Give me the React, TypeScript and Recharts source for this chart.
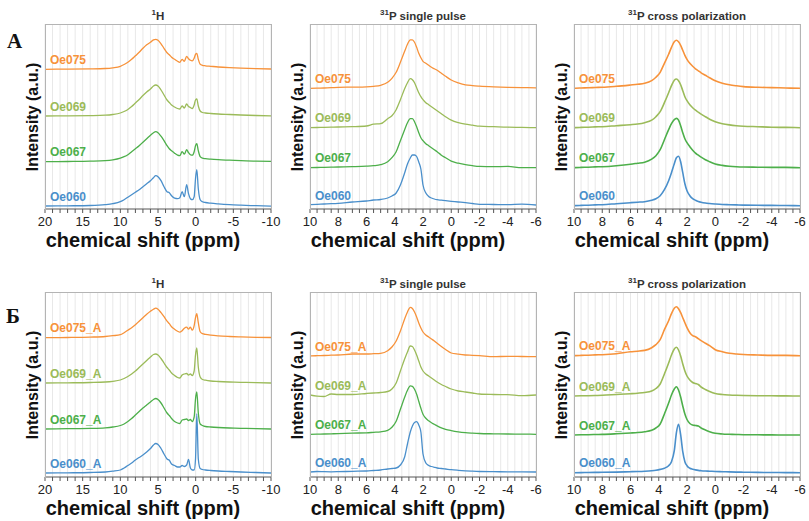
import { LineChart, Line, XAxis, YAxis, CartesianGrid } from 'recharts';

const FONT = '"Liberation Sans", Arial, Helvetica, sans-serif';

const C_075 = '#F7923A';
const C_069 = '#9BBB59';
const C_067 = '#4DAF4A';
const C_060 = '#4A8FCB';

// ---- 1H spectra (ppm grid shared by all 1H traces)
const h1Ppm = [20, 17, 14, 12, 11, 10, 9.5, 9, 8.5, 8, 7.5, 7, 6.5, 6, 5.6, 5.3, 5, 4.6, 4.2, 3.8, 3.5, 3.2, 2.8, 2.4, 2.1, 1.8, 1.5, 1.2, 0.95, 0.7, 0.45, 0.2, 0.02, -0.15, -0.35, -0.6, -0.9, -1.3, -2, -3, -4.5, -6, -8, -10];

const h1Oe075 = [0, 0.2, 0.4, 0.8, 1.5, 3, 4.8, 7, 10, 13.5, 17, 21, 24.5, 27, 29.5, 30, 29, 25.5, 21, 16.5, 14.5, 12, 10, 8, 7, 10, 8, 13, 10.5, 9, 8.5, 11, 15, 16, 10, 5, 4, 3.5, 3, 2.3, 1.6, 1.1, 0.6, 0.3];
const h1Oe069 = [0, 0.2, 0.4, 0.8, 1.5, 3, 4.5, 6.5, 9.5, 13, 16.5, 20.5, 24, 27, 30, 31, 30, 26, 21, 16, 13.5, 11, 9, 7.5, 7, 10, 8, 12, 9.5, 8.5, 7.5, 11, 16, 17, 10, 5, 3.5, 3, 2.5, 2, 1.5, 1, 0.5, 0.2];
const h1Oe067 = [0, 0.2, 0.5, 1, 1.8, 3.5, 5, 7, 10, 13, 16, 19.5, 23, 26.5, 29, 30, 29, 25.5, 21, 16, 13, 11, 8.5, 6.5, 6, 10, 7.5, 12, 9, 7, 6.5, 10, 16, 18, 11, 5, 3.5, 3, 2.5, 2, 1.5, 1, 0.6, 0.3];
const h1Oe060 = [0.7, 0.9, 1.2, 2, 3, 5, 7, 9.5, 12, 14.5, 17, 20, 23, 26, 29, 31, 30, 26, 20, 15, 14, 11, 8.5, 8, 9, 15, 10, 22, 13, 8, 7, 10, 28, 37, 18, 7, 5, 4.2, 3.5, 2.8, 2, 1.5, 1, 0.5];

const h1Oe075A = [0, 0.2, 0.6, 1.2, 2, 3, 5, 7.5, 10, 13, 16.5, 20, 23.5, 26.5, 28.5, 29.5, 28.5, 25, 21, 16.5, 14, 11, 8.5, 6.5, 5.5, 7, 9.5, 10.5, 8.5, 10.5, 7.5, 12, 20, 24, 15, 6, 4, 3.3, 2.5, 1.8, 1.2, 0.8, 0.4, 0.2];
const h1Oe069A = [0, 0.2, 0.5, 1, 1.7, 3, 4.5, 6.5, 9, 12, 15.5, 19, 22.5, 26, 28.5, 29, 28, 24.5, 20, 15.5, 13, 10, 7.5, 5.5, 5, 8, 9, 9.5, 8, 9, 7.5, 12, 28, 35, 16, 6, 3.5, 2.8, 2, 1.5, 1, 0.7, 0.3, 0];
const h1Oe067A = [0, 0.3, 0.6, 1.2, 2, 3.5, 5, 7.5, 10.5, 14, 17.5, 21, 24, 27, 29.5, 30.5, 29.5, 26, 21, 16, 13.5, 10.5, 7.5, 6, 5.5, 9, 9.5, 10, 8.5, 9.5, 7.5, 12, 30, 37, 16, 5, 3.5, 2.5, 2, 1.5, 1, 0.7, 0.3, 0];
const h1Oe060A = [0, 0.2, 0.5, 1, 1.8, 3, 5, 7.5, 10, 13, 15.5, 18, 21, 24.5, 28, 29.5, 28.5, 24.5, 19, 14, 12.7, 9, 7.5, 6, 6, 7.5, 6.5, 8, 13.5, 5, 3, 3, 14, 59, 14, 4.5, 3.5, 3, 2.5, 2, 1.5, 1, 0.5, 0];

// ---- 31P spectra (ppm grid shared by single pulse and cross polarization)
const pPpm = [10, 9.5, 9, 8.5, 8, 7, 6, 5.5, 5, 4.5, 4.2, 3.9, 3.6, 3.3, 3.1, 2.9, 2.75, 2.6, 2.45, 2.3, 2.15, 2, 1.8, 1.6, 1.4, 1.2, 1, 0.7, 0.4, 0, -0.5, -1, -1.5, -2, -3, -4, -5, -6];

const spOe075 = [0, 0.2, 0.3, 0.6, 1, 1.2, 1.5, 2, 3, 6, 10, 16, 26, 37, 44, 48.5, 48.5, 46, 41, 35, 30.5, 27, 25, 23, 21, 19.5, 18, 15, 12, 8.3, 5.5, 3.5, 2.7, 2.2, 1.5, 1, 0.7, 0.5];
const spOe069 = [0, 0.2, 0.3, 0.5, 0.7, 1, 1.7, 3.5, 4, 9, 12, 18, 28, 39, 45, 49, 48, 45, 40, 35, 31, 28, 25, 23, 21, 19, 17, 14, 11, 7.5, 5, 3.5, 2.5, 1.5, 1, 0.5, 0.3, 0];
const spOe067 = [0, 0.2, 0.3, 0.5, 0.7, 1, 1.5, 2, 3, 6, 10, 16, 27, 38, 45, 49, 49, 46, 41, 35, 30, 27, 24, 22, 20, 18, 16, 12.5, 10, 6.5, 4.5, 3, 2, 1.3, 1, 1.3, 0, 0];
const spOe060 = [0.3, 0.6, 1, 1.3, 1.7, 3, 4, 5, 5.5, 7, 9, 12, 20, 32, 41, 47, 50, 50, 48.5, 43, 36, 20, 12, 8.5, 7, 6, 5.3, 4.8, 4.3, 3.7, 3, 2.3, 1.5, 0.7, 0.5, 0.3, 0.8, 0];

const cpOe075 = [0, 0.3, 0.5, 0.8, 1, 2, 3.3, 4, 5, 7.7, 11, 16, 25, 34, 41, 46.5, 48, 46.5, 43, 38, 33, 29, 25, 22, 19.5, 17.5, 15.5, 13, 10.5, 7.5, 5, 3.5, 2.5, 1.7, 1, 0.7, 0.3, 0];
const cpOe069 = [0, 0.3, 0.5, 0.8, 1, 2, 3, 3.7, 5, 7.5, 11, 16, 25, 35, 42, 47.5, 48.7, 47, 43, 37, 31, 27, 23, 20, 17.5, 15.5, 13.5, 11, 8.5, 6, 4, 2.8, 2, 1.5, 1, 0.5, 0.3, 0];
const cpOe067 = [0, 0.3, 0.5, 0.8, 1, 2, 3.5, 4.5, 5.5, 8.5, 12, 18, 28, 38, 44, 48, 49.3, 47.5, 42, 35, 29, 25, 21, 17.5, 14.5, 12.5, 10.5, 8, 6, 3.7, 2.3, 1.5, 1, 0.7, 0.5, 0.3, 0.3, 0];
const cpOe060 = [0, 0.3, 0.5, 0.8, 1, 2, 3, 3.5, 4, 5.5, 7, 10, 16, 25, 33, 42, 48, 49.5, 44, 33, 22, 15, 10, 7, 5.5, 4.3, 3.5, 2.7, 2.2, 1.7, 1.2, 1, 0.8, 0.6, 0.4, 0.3, 0.2, 0];

const spOe075A = [0, 0.3, 0.5, 0.8, 1, 2, 2, 2.3, 2.7, 5.3, 9, 15, 25, 37, 44, 48.7, 47.5, 44, 39, 33, 28, 24, 21, 19, 17, 15, 12.7, 9.5, 6.5, 3, 1.8, 1, 0.7, 0.3, -0.7, -0.3, -0.5, -0.7];
const spOe069A = [0, -1.2, -1.5, 1, 0.5, 0.5, 1.5, 2, 2.5, 3.5, 6, 12, 24, 36, 43, 49, 48.5, 45, 40, 34, 28, 24, 21, 19, 17, 15, 13, 10.5, 8.5, 6, 4, 3, 2, 1, 0.5, 0.3, -0.7, 0];
const spOe067A = [0, 0.2, 0.3, 0.5, 0.7, 1.2, 1.5, 2, 2.5, 4, 7, 13, 25, 37, 44, 48.5, 48, 45, 40, 33, 26, 20, 16, 13.5, 11.5, 10, 8.5, 6.5, 5, 3.7, 2.5, 1.7, 1.2, 0.8, 0.5, 0.3, 0.2, 0];
const spOe060A = [0, 0.5, 0.3, 0.2, 0.3, 0.7, 1, 1.5, 2, 3, 3.5, 4, 7, 15, 28, 40, 46, 49.5, 50.3, 47, 40, 18, 9, 6.5, 5.5, 4.7, 4, 3.5, 3, 2.3, 1.7, 1.2, 0.8, 0.5, 0.3, 0.2, 0.2, 0];

const cpOe075A = [0, 0.3, 0.5, 0.8, 1, 2, 4, 4.5, 5.3, 8, 11, 16, 26, 35, 42, 47.5, 49, 47, 43, 38, 33, 28, 23, 20, 19, 17, 15, 12.5, 10, 6, 4, 2.5, 1.7, 1.2, 0.7, 0.3, 0.3, 0];
const cpOe069A = [0, 0.2, 0.3, 0.5, 0.7, 1.5, 2.3, 2.8, 3.5, 5, 7.5, 12, 22, 33, 41, 47, 48.7, 46, 40, 32, 25, 20, 16, 13.5, 12.5, 11.5, 9, 6.5, 4.5, 2.5, 1.5, 1, 0.7, 0.5, 0.3, 0.2, 0.1, 0];
const cpOe067A = [0, 0.2, 0.3, 0.5, 0.6, 1.2, 2, 2.5, 3.3, 4.7, 7, 11, 21, 32, 40, 46, 48.3, 45, 38, 29, 21, 15.5, 11.5, 10, 9.5, 9, 7, 5, 3.3, 1.7, 1, 0.7, 0.5, 0.3, 0.2, 0.1, 0, 0];
const cpOe060A = [0, 0.1, 0.2, 0.3, 0.4, 0.6, 1, 1.2, 1.5, 2, 2.5, 3.3, 4.5, 7, 11, 22, 40, 48.5, 38, 21, 11, 7, 4.5, 3.5, 2.8, 2.3, 2, 1.7, 1.5, 1.2, 1, 0.8, 0.6, 0.5, 0.3, 0.2, 0.1, 0];

type Trace = { name: string; color: string; offset: number; values: number[] };

const PLOT_W = 226;
const PLOT_H = 185;
const PAD_X = 22;
const PAD_TOP = 2;
const AXIS_H = 26;

interface PanelProps {
  left: number;
  top: number;
  title: React.ReactNode;
  ppm: number[];
  traces: Trace[];
  xMin: number;
  xMax: number;
  step: number;
  labelEvery: number;
  lineWidth?: number;
}

function SpectrumPanel({ left, top, title, ppm, traces, xMin, xMax, step, labelEvery, lineWidth = 1.3 }: PanelProps) {
  const rows = ppm.map((p, i) => {
    const row: Record<string, number> = { ppm: p };
    traces.forEach((t, k) => {
      row[`s${k}`] = t.offset + t.values[i];
    });
    return row;
  });

  const ticks: number[] = [];
  for (let v = xMax; v >= xMin - 1e-9; v -= step) ticks.push(Math.round(v * 100) / 100);

  const fmt = (v: number) => (Math.abs(v % labelEvery) < 1e-6 ? String(v) : '');

  return (
    <>
      <div
        style={{
          position: 'absolute',
          left,
          top: top - 15,
          width: PLOT_W,
          textAlign: 'center',
          fontFamily: FONT,
          fontSize: 11.5,
          fontWeight: 'bold',
          color: '#333',
          lineHeight: '14px',
        }}
      >
        {title}
      </div>

      <div style={{ position: 'absolute', left: left - PAD_X, top: top - PAD_TOP }}>
        <LineChart
          width={PLOT_W + PAD_X * 2}
          height={PLOT_H + PAD_TOP + AXIS_H}
          data={rows}
          margin={{ top: PAD_TOP, right: PAD_X, left: PAD_X, bottom: 0 }}
        >
          <CartesianGrid horizontal={false} stroke="#e8e8e8" />
          <XAxis
            dataKey="ppm"
            type="number"
            domain={[xMin, xMax]}
            reversed
            allowDataOverflow
            ticks={ticks}
            interval={0}
            height={AXIS_H}
            tickSize={4}
            tickMargin={4}
            tickFormatter={fmt}
            tick={{ fontSize: 13, fill: '#222', fontFamily: FONT }}
            axisLine={{ stroke: '#555' }}
            tickLine={{ stroke: '#555' }}
          />
          <YAxis hide type="number" domain={[0, PLOT_H]} allowDataOverflow />
          {traces.map((t, k) => (
            <Line
              key={t.name}
              dataKey={`s${k}`}
              type="monotone"
              stroke={t.color}
              strokeWidth={lineWidth}
              dot={false}
              isAnimationActive={false}
            />
          ))}
        </LineChart>
      </div>

      {/* frame: top, left, right */}
      <div
        style={{
          position: 'absolute',
          left,
          top,
          width: PLOT_W - 1,
          height: PLOT_H,
          borderTop: '1px solid #b4b4b4',
          borderLeft: '1px solid #b4b4b4',
          borderRight: '1px solid #b4b4b4',
          pointerEvents: 'none',
        }}
      />

      {traces.map((t) => (
        <div
          key={`lbl-${t.name}`}
          style={{
            position: 'absolute',
            left: left + 5,
            top: top + PLOT_H - t.offset - 9.5 - 8,
            fontFamily: FONT,
            fontSize: 12,
            fontWeight: 'bold',
            color: t.color,
            lineHeight: '16px',
            whiteSpace: 'nowrap',
          }}
        >
          {t.name}
        </div>
      ))}

      <div
        style={{
          position: 'absolute',
          left: left - 12,
          top: top + PLOT_H / 2,
          transform: 'translate(-50%, -50%) rotate(-90deg)',
          fontFamily: FONT,
          fontSize: 16,
          fontWeight: 'bold',
          color: '#111',
          whiteSpace: 'nowrap',
          lineHeight: '18px',
        }}
      >
        Intensity (a.u.)
      </div>

      <div
        style={{
          position: 'absolute',
          left: left - 35,
          top: top + PLOT_H + 19,
          width: PLOT_W + 40,
          textAlign: 'center',
          fontFamily: FONT,
          fontSize: 20,
          fontWeight: 'bold',
          color: '#111',
          lineHeight: '24px',
        }}
      >
        chemical shift (ppm)
      </div>
    </>
  );
}

const sup = (s: string) => <span style={{ fontSize: 8, verticalAlign: 'super', lineHeight: 0 }}>{s}</span>;

const TITLE_H = <>{sup('1')}H</>;
const TITLE_SP = <>{sup('31')}P single pulse</>;
const TITLE_CP = <>{sup('31')}P cross polarization</>;

export default function App() {
  const rowA = 24;
  const rowB = 292;
  const x1 = 45;
  const x2 = 310;
  const x3 = 574;

  return (
    <div
      style={{
        position: 'fixed',
        left: 0,
        top: 0,
        width: 809,
        height: 521,
        background: '#fff',
        overflow: 'hidden',
      }}
    >
      <div style={{ position: 'absolute', left: 7, top: 29, fontFamily: '"Liberation Serif", "Times New Roman", serif', fontSize: 21, fontWeight: 'bold', color: '#111' }}>А</div>
      <div style={{ position: 'absolute', left: 6, top: 304, fontFamily: '"Liberation Serif", "Times New Roman", serif', fontSize: 21, fontWeight: 'bold', color: '#111' }}>Б</div>

      <SpectrumPanel
        left={x1} top={rowA} title={TITLE_H} ppm={h1Ppm} xMin={-10} xMax={20} step={1} labelEvery={5}
        traces={[
          { name: 'Oe075', color: C_075, offset: 139.7, values: h1Oe075 },
          { name: 'Oe069', color: C_069, offset: 93, values: h1Oe069 },
          { name: 'Oe067', color: C_067, offset: 47.3, values: h1Oe067 },
          { name: 'Oe060', color: C_060, offset: 2.3, values: h1Oe060 },
        ]}
      />
      <SpectrumPanel
        left={x2} top={rowA} title={TITLE_SP} ppm={pPpm} xMin={-6} xMax={10} step={0.5} labelEvery={2}
        traces={[
          { name: 'Oe075', color: C_075, offset: 120.7, values: spOe075 },
          { name: 'Oe069', color: C_069, offset: 81.3, values: spOe069 },
          { name: 'Oe067', color: C_067, offset: 41.3, values: spOe067 },
          { name: 'Oe060', color: C_060, offset: 4, values: spOe060 },
        ]}
      />
      <SpectrumPanel
        left={x3} top={rowA} title={TITLE_CP} ppm={pPpm} xMin={-6} xMax={10} step={0.5} labelEvery={2} lineWidth={1.6}
        traces={[
          { name: 'Oe075', color: C_075, offset: 120.7, values: cpOe075 },
          { name: 'Oe069', color: C_069, offset: 81.3, values: cpOe069 },
          { name: 'Oe067', color: C_067, offset: 41.3, values: cpOe067 },
          { name: 'Oe060', color: C_060, offset: 3.3, values: cpOe060 },
        ]}
      />

      <SpectrumPanel
        left={x1} top={rowB} title={TITLE_H} ppm={h1Ppm} xMin={-10} xMax={20} step={1} labelEvery={5}
        traces={[
          { name: 'Oe075_A', color: C_075, offset: 139.3, values: h1Oe075A },
          { name: 'Oe069_A', color: C_069, offset: 94, values: h1Oe069A },
          { name: 'Oe067_A', color: C_067, offset: 48, values: h1Oe067A },
          { name: 'Oe060_A', color: C_060, offset: 4, values: h1Oe060A },
        ]}
      />
      <SpectrumPanel
        left={x2} top={rowB} title={TITLE_SP} ppm={pPpm} xMin={-6} xMax={10} step={0.5} labelEvery={2}
        traces={[
          { name: 'Oe075_A', color: C_075, offset: 121, values: spOe075A },
          { name: 'Oe069_A', color: C_069, offset: 82, values: spOe069A },
          { name: 'Oe067_A', color: C_067, offset: 42.7, values: spOe067A },
          { name: 'Oe060_A', color: C_060, offset: 5, values: spOe060A },
        ]}
      />
      <SpectrumPanel
        left={x3} top={rowB} title={TITLE_CP} ppm={pPpm} xMin={-6} xMax={10} step={0.5} labelEvery={2} lineWidth={1.6}
        traces={[
          { name: 'Oe075_A', color: C_075, offset: 121.3, values: cpOe075A },
          { name: 'Oe069_A', color: C_069, offset: 81, values: cpOe069A },
          { name: 'Oe067_A', color: C_067, offset: 42, values: cpOe067A },
          { name: 'Oe060_A', color: C_060, offset: 4.3, values: cpOe060A },
        ]}
      />
    </div>
  );
}
